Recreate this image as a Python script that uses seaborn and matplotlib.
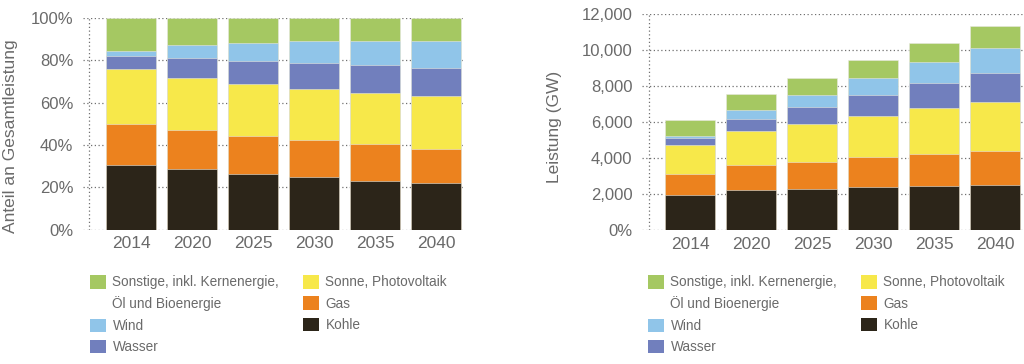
import matplotlib
matplotlib.use("Agg")
import matplotlib.pyplot as plt
import pandas as pd
import seaborn as sns
from matplotlib.patches import Patch

# Jahre
years = ["2014", "2020", "2025", "2030", "2035", "2040"]

# Anteil an Gesamtleistung (%), von unten nach oben
share_kohle = [30.6, 28.5, 26.4, 24.7, 23.1, 21.9]
share_gas = [19.4, 18.5, 17.9, 17.7, 17.1, 16.3]
share_sonne = [26.1, 24.8, 24.7, 24.2, 24.5, 24.8]
share_wasser = [6.0, 9.5, 10.9, 12.2, 13.1, 13.5]
share_wind = [2.5, 5.8, 8.3, 10.2, 11.4, 12.5]
share_sonstige = [15.4, 12.9, 11.8, 11.0, 10.8, 11.0]

# Leistung (GW)
gw_kohle = [1930, 2220, 2300, 2370, 2440, 2520]
gw_gas = [1200, 1370, 1500, 1700, 1800, 1870]
gw_sonne = [1590, 1890, 2070, 2280, 2520, 2740]
gw_wasser = [370, 670, 950, 1150, 1390, 1570]
gw_wind = [150, 520, 680, 960, 1180, 1430]
gw_sonstige = [870, 890, 960, 980, 1070, 1200]

series = ["Kohle", "Gas", "Sonne", "Wasser", "Wind", "Sonstige"]
colors = {
    "Kohle": "#2c2519",
    "Gas": "#ec821e",
    "Sonne": "#f7e84a",
    "Wasser": "#717fbd",
    "Wind": "#90c5e9",
    "Sonstige": "#a5c862",
}

left_ticks = [0, 20, 40, 60, 80, 100]
left_ticklabels = ["0%", "20%", "40%", "60%", "80%", "100%"]
right_ticks = [0, 2000, 4000, 6000, 8000, 10000, 12000]
right_ticklabels = ["0%", "2,000", "4,000", "6,000", "8,000", "10,000", "12,000"]

sns.set_theme(style="white")
plt.rcParams["font.family"] = ["Liberation Sans", "DejaVu Sans"]
grey = "#6a6a6a"
dots = (0, (1, 2))

fig = plt.figure(figsize=(10.24, 3.64), dpi=100)
W, H = 1024, 364


def px_axes(x0, x1, y_top, y_bot):
    return fig.add_axes([x0 / W, 1 - y_bot / H, (x1 - x0) / W, (y_bot - y_top) / H])


def stacked(ax, cols, ylim, ticks, ticklabels, ylabel, xlim, vline):
    df = pd.DataFrame(dict(zip(series, cols)), index=years)
    cum = df.cumsum(axis=1).reset_index().rename(columns={"index": "Jahr"})
    # von oben nach unten zeichnen, damit die kleineren Summen darüber liegen
    for name in reversed(series):
        sns.barplot(data=cum, x="Jahr", y=name, order=years, color=colors[name],
                    width=0.82, saturation=1, edgecolor="#e8e8e0", linewidth=0.4,
                    ax=ax, zorder=3)
    ax.set_ylim(*ylim)
    ax.set_xlim(*xlim)
    ax.set_yticks(ticks)
    ax.set_yticklabels(ticklabels)
    ax.set_xlabel("")
    ax.set_ylabel(ylabel, fontsize=12.5, color=grey)
    for s in ax.spines.values():
        s.set_visible(False)
    ax.yaxis.grid(True, color="#707070", linestyle=dots, linewidth=0.9, zorder=0)
    ax.xaxis.grid(False)
    ax.axvline(vline, color="#707070", linestyle=dots, linewidth=0.9, zorder=0)
    ax.tick_params(axis="y", length=0, pad=7, labelsize=12, labelcolor=grey)
    ax.tick_params(axis="x", length=0, pad=5, labelsize=12.5, labelcolor=grey)
    ax.set_axisbelow(True)


ax1 = px_axes(83, 463, 18, 229.5)
stacked(ax1, [share_kohle, share_gas, share_sonne, share_wasser, share_wind, share_sonstige],
        (0, 100), left_ticks, left_ticklabels, "Anteil an Gesamtleistung",
        (-0.79, 5.44), -0.69)
ax1.yaxis.set_label_coords(-0.172, 0.44)

ax2 = px_axes(642, 1024, 14, 230)
stacked(ax2, [gw_kohle, gw_gas, gw_sonne, gw_wasser, gw_wind, gw_sonstige],
        (0, 12000), right_ticks, right_ticklabels, "Leistung (GW)",
        (-0.79, 5.47), -0.68)
ax2.yaxis.set_label_coords(-0.209, 0.477)


def handle(name):
    return Patch(facecolor=colors[name], edgecolor="none")


blank = Patch(facecolor="none", edgecolor="none")
col1 = [handle("Sonstige"), blank, handle("Wind"), handle("Wasser")]
col1_labels = ["Sonstige, inkl. Kernenergie,", "Öl und Bioenergie", "Wind", "Wasser"]
col2 = [handle("Sonne"), handle("Gas"), handle("Kohle")]
col2_labels = ["Sonne, Photovoltaik", "Gas", "Kohle"]

leg_kw = dict(loc="upper left", frameon=False, fontsize=9.8, labelcolor=grey,
              handlelength=1.15, handleheight=1.15, handletextpad=0.5,
              labelspacing=0.52, borderpad=0, borderaxespad=0)

for x1, x2 in [(90, 303), (648, 861)]:
    fig.legend(col1, col1_labels, bbox_to_anchor=(x1 / W, 1 - 275 / H), **leg_kw)
    fig.legend(col2, col2_labels, bbox_to_anchor=(x2 / W, 1 - 275 / H), **leg_kw)

fig.savefig("out.png", dpi=100)
